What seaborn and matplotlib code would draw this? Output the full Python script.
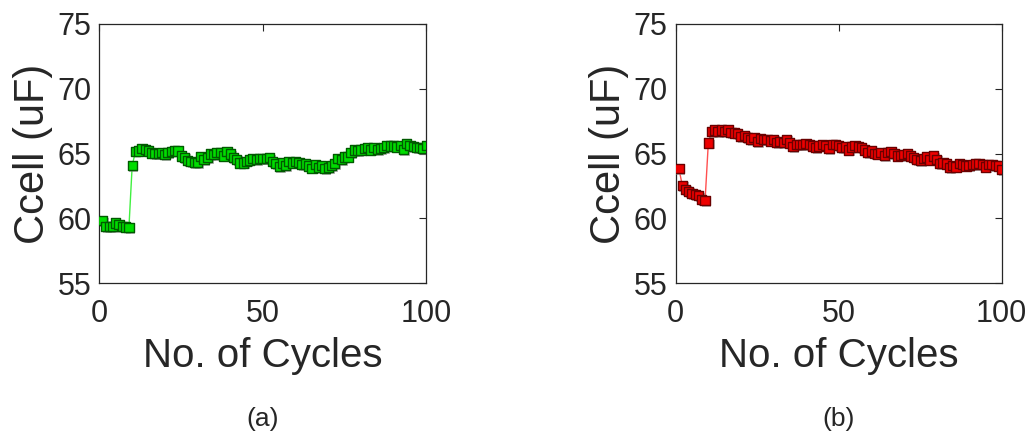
import numpy as np
import pandas as pd
import matplotlib
matplotlib.use("Agg")
import matplotlib.pyplot as plt
import matplotlib.patheffects as pe
import seaborn as sns

cycles = list(range(1, 101))

ccell_a = [59.82, 59.40, 59.40, 59.40, 59.65, 59.55, 59.40, 59.35, 59.28, 64.05,
           65.18, 65.20, 65.36, 65.30, 65.20, 65.05, 65.00, 65.00, 65.08, 64.92,
           65.10, 65.18, 65.23, 65.20, 64.82, 64.70, 64.44, 64.38, 64.33, 64.30,
           64.77, 64.56, 64.67, 64.95, 64.92, 65.08, 65.08, 64.82, 65.15, 64.97,
           64.67, 64.56, 64.26, 64.28, 64.41, 64.49, 64.64, 64.56, 64.64, 64.62,
           64.60, 64.67, 64.36, 64.23, 64.00, 64.28, 64.05, 64.38, 64.28, 64.36,
           64.33, 64.15, 64.18, 64.03, 63.87, 64.15, 63.92, 64.10, 63.82, 63.90,
           64.10, 64.23, 64.59, 64.56, 64.74, 64.74, 65.08, 65.26, 65.23, 65.26,
           65.36, 65.44, 65.26, 65.46, 65.30, 65.41, 65.44, 65.62, 65.59, 65.59,
           65.51, 65.64, 65.30, 65.77, 65.64, 65.56, 65.46, 65.44, 65.38, 65.62]

ccell_b = [63.82, 62.56, 62.23, 62.08, 61.92, 61.82, 61.74, 61.46, 61.36, 65.80,
           66.67, 66.80, 66.72, 66.80, 66.72, 66.87, 66.62, 66.59, 66.54, 66.33,
           66.41, 66.23, 66.10, 66.23, 65.90, 66.13, 66.08, 66.08, 65.97, 66.10,
           65.87, 65.92, 65.85, 66.08, 65.82, 65.56, 65.67, 65.69, 65.69, 65.77,
           65.72, 65.59, 65.44, 65.59, 65.69, 65.62, 65.38, 65.72, 65.69, 65.64,
           65.46, 65.51, 65.26, 65.51, 65.64, 65.51, 65.46, 65.26, 65.10, 65.20,
           65.00, 64.95, 65.08, 64.87, 65.08, 65.13, 65.00, 64.82, 64.87, 64.92,
           65.00, 64.82, 64.67, 64.56, 64.44, 64.62, 64.74, 64.49, 64.82, 64.54,
           64.23, 64.28, 64.18, 63.92, 64.10, 63.97, 64.23, 64.15, 64.03, 64.10,
           64.15, 64.18, 64.23, 64.15, 63.97, 64.15, 64.15, 64.10, 64.03, 63.77]

x_ticks = [0, 50, 100]
y_ticks = [55, 60, 65, 70, 75]
panel_labels = ["(a)", "(b)"]

sns.set_theme(style="white")
plt.rcParams['font.family'] = ['Liberation Sans', 'DejaVu Sans']
txt = '#262626'

fig = plt.figure(figsize=(10.31, 4.34), dpi=100)
ax_a = fig.add_axes([0.0965, 0.3472, 0.317, 0.5982])
ax_b = fig.add_axes([0.6554, 0.3472, 0.3162, 0.5982])

specs = [
    (ax_a, ccell_a, '#40f040', '#00dd00', '#005a00', panel_labels[0]),
    (ax_b, ccell_b, '#ff5050', '#ee0000', '#6a0000', panel_labels[1]),
]

for ax, vals, lc, fc, ec, lab in specs:
    df = pd.DataFrame({"cycle": cycles, "ccell": vals})
    sns.lineplot(data=df, x="cycle", y="ccell", ax=ax, color=lc, linewidth=1.0,
                 zorder=2)
    sns.scatterplot(data=df, x="cycle", y="ccell", ax=ax, marker='s', s=45,
                    color=fc, edgecolor=ec, linewidth=1.0, zorder=3,
                    path_effects=[pe.SimplePatchShadow(offset=(1.2, -1.2),
                                                       shadow_rgbFace='#888888',
                                                       alpha=0.6),
                                  pe.Normal()])
    ax.set_xlim(0, 100)
    ax.set_ylim(55, 75)
    ax.set_xticks(x_ticks)
    ax.set_yticks(y_ticks)
    ax.tick_params(direction='in', length=5, width=0.8, colors=txt,
                   labelsize=22, top=True, right=True,
                   labeltop=False, labelright=False)
    ax.tick_params(axis='x', pad=11)
    ax.tick_params(axis='y', pad=6)
    for sp in ax.spines.values():
        sp.set_visible(True)
        sp.set_color(txt)
        sp.set_linewidth(0.9)
    ax.set_xlabel("No. of Cycles", fontsize=29, color=txt, labelpad=6)
    ax.set_ylabel("Ccell (uF)", fontsize=30, color=txt, labelpad=3)
    ax.text(0.5, -0.522, lab, transform=ax.transAxes, ha='center', va='center',
            fontsize=19, color=txt)

fig.savefig("out.png", dpi=100)
